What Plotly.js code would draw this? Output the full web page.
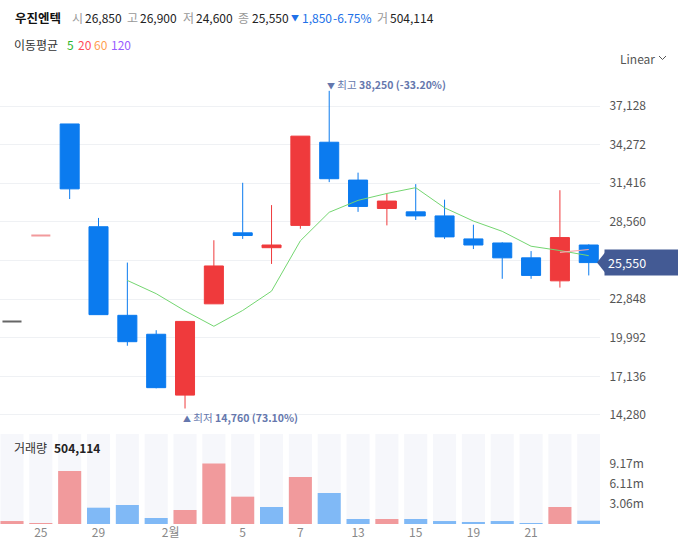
<!DOCTYPE html>
<html>
<head>
<meta charset="utf-8">
<script src="https://cdn.plot.ly/plotly-3.0.1.min.js"></script>
<style>
  html, body { margin: 0; padding: 0; background: #fff; }
  #chart { width: 678px; height: 541px; }
</style>
</head>
<body>
<div id="chart"></div>
<script>
// 우진엔텍 daily candles, 2024-01-24 .. 2024-02-23
var days   = ['1/24','1/25','1/26','1/29','1/30','1/31','2/1','2/2','2/5','2/6','2/7',
              '2/8','2/13','2/14','2/15','2/16','2/19','2/20','2/21','2/22','2/23'];
var opens  = [21200, 27550, 35800, 28200, 21650, 20250, 15750, 22500, 27750, 26650, 28300,
              34450, 31650, 29550, 29300, 29000, 27300, 27000, 25900, 24200, 26850];
var highs  = [21200, 27550, 35800, 28850, 25550, 20550, 21200, 27200, 31450, 29800, 34900,
              38250, 32200, 30650, 31350, 30200, 28350, 27050, 26400, 30900, 26900];
var lows   = [21200, 27550, 30250, 21700, 19400, 16250, 14760, 22500, 27300, 25450, 28050,
              31500, 29300, 28300, 28700, 27300, 26550, 24350, 24350, 23700, 24600];
var closes = [21200, 27550, 31000, 21700, 19700, 16300, 21200, 25300, 27550, 26850, 34900,
              31750, 29700, 30100, 29000, 27450, 26850, 25900, 24600, 27400, 25550];
var volumes = [450000, 150000, 8030000, 2470000, 2880000, 910000, 2120000, 9170000, 4140000, 2580000, 7130000,
               4700000, 760000, 760000, 760000, 450000, 300000, 450000, 150000, 2580000, 504114];

var tickPos  = [1, 3, 5.5, 8, 10, 12, 14, 16, 18];
var tickText = ['25', '29', '2월', '5', '7', '13', '15', '19', '21'];

var RED = '#ef3a3c', BLUE = '#0b7bef';
var FONT = 'Noto Sans CJK KR, Noto Sans, sans-serif';

var idx = days.map(function (d, i) { return i; });
function pick(arr, ids) { return ids.map(function (i) { return arr[i]; }); }
function fmt(n) { return Math.round(n).toLocaleString('en-US'); }

// moving averages of the close
function sma(n) {
  return closes.map(function (c, i) {
    if (i < n - 1) return null;
    var s = 0;
    for (var k = i - n + 1; k <= i; k++) s += closes[k];
    return s / n;
  });
}

var flatIds = idx.filter(function (i) { return opens[i] === closes[i] && highs[i] === lows[i]; });
var moveIds = idx.filter(function (i) { return flatIds.indexOf(i) < 0; });

var traces = [];
traces.push({
  type: 'candlestick', x: pick(idx, moveIds),
  open: pick(opens, moveIds), high: pick(highs, moveIds),
  low: pick(lows, moveIds), close: pick(closes, moveIds),
  increasing: { line: { color: RED, width: 1 }, fillcolor: RED },
  decreasing: { line: { color: BLUE, width: 1 }, fillcolor: BLUE },
  whiskerwidth: 0, hoverinfo: 'skip', showlegend: false, xaxis: 'x', yaxis: 'y'
});
flatIds.forEach(function (i) {
  var col = (i > 0 && closes[i] > closes[i - 1]) ? '#f29a9c' : '#666666';
  traces.push({
    type: 'candlestick', x: [i], open: [opens[i]], high: [highs[i]], low: [lows[i]], close: [closes[i]],
    increasing: { line: { color: col, width: 2 }, fillcolor: col },
    decreasing: { line: { color: col, width: 2 }, fillcolor: col },
    whiskerwidth: 0, hoverinfo: 'skip', showlegend: false, xaxis: 'x', yaxis: 'y'
  });
});
traces.push({ type: 'scatter', mode: 'lines', x: idx, y: sma(5), line: { color: '#74d671', width: 1 },
  hoverinfo: 'skip', showlegend: false, xaxis: 'x', yaxis: 'y' });
traces.push({ type: 'scatter', mode: 'lines', x: idx, y: sma(20), line: { color: '#f7a9b0', width: 1.2 },
  hoverinfo: 'skip', showlegend: false, xaxis: 'x', yaxis: 'y' });

// volume panel: colour follows close vs previous close
var volMax = Math.max.apply(null, volumes);
var volTop = volMax * 1.487;
traces.push({ type: 'bar', x: idx, y: idx.map(function () { return volTop; }),
  marker: { color: '#f6f7fb' }, hoverinfo: 'skip', showlegend: false, xaxis: 'x', yaxis: 'y2' });
traces.push({ type: 'bar', x: idx, y: volumes,
  marker: { color: idx.map(function (i) { return (i === 0 || closes[i] >= closes[i - 1]) ? '#f19a9c' : '#80b9f6'; }) },
  hoverinfo: 'skip', showlegend: false, xaxis: 'x', yaxis: 'y2' });

var volTicks = [1, 2, 3].map(function (k) { return volMax * k / 3; });

var last = closes.length - 1;

// price ticks; the one hidden behind the last-price badge gets no label
var priceTicks = [];
for (var v = 14280; v <= 39000; v += 2856) priceTicks.push(v);
var priceText = priceTicks.map(function (v) { return Math.abs(v - closes[last]) < 1000 ? '' : fmt(v); });

// pixel helpers for text placed in the margins
var W = 600, T = 70, H = 454;
function px(x) { return x / W; }
function py(y) { return (T + H - y) / H; }
function txt(x, y, text, color, size, bold) {
  return { xref: 'paper', yref: 'paper', x: px(x), y: py(y), xanchor: 'left', yanchor: 'middle',
    showarrow: false, text: bold ? '<b>' + text + '</b>' : text,
    font: { family: FONT, size: size || 12, color: color || '#222' } };
}

var chg = closes[last] - closes[last - 1];
var chgPct = chg / closes[last - 1] * 100;
var hiIdx = highs.indexOf(Math.max.apply(null, highs));
var loIdx = lows.indexOf(Math.min.apply(null, lows));
var hiPct = (closes[last] - highs[hiIdx]) / highs[hiIdx] * 100;
var loPct = (closes[last] - lows[loIdx]) / lows[loIdx] * 100;
var CHG = '#2070e8', MARK = '#6577ad';

var annotations = [
  txt(13, 17, '우진엔텍', '#111', 12.5, true),
  txt(70, 17, '시', '#999'), txt(83, 17, fmt(opens[last])),
  txt(125, 17, '고', '#999'), txt(138, 17, fmt(highs[last])),
  txt(181, 17, '저', '#999'), txt(194, 17, fmt(lows[last])),
  txt(236, 17, '종', '#999'), txt(250, 17, fmt(closes[last])),
  txt(289, 17, chg < 0 ? '▼' : '▲', CHG, 8), txt(300, 17, fmt(Math.abs(chg)), CHG),
  txt(331, 17, chgPct.toFixed(2) + '%', CHG),
  txt(375, 17, '거', '#999'), txt(388, 17, fmt(volumes[last])),
  txt(12, 44, '이동평균', '#333'),
  txt(65, 44, '5', '#2db82d'), txt(76, 44, '20', '#ff4d5a'),
  txt(92, 44, '60', '#ff9f50'), txt(109, 44, '120', '#9a5cff'),
  txt(618, 58, 'Linear', '#555'),
  txt(12, 447, '거래량', '#333'), txt(52, 447, fmt(volumes[last]), '#222', 12, true),
  { xref: 'x', yref: 'y', x: hiIdx, y: highs[hiIdx], xanchor: 'left', yanchor: 'bottom', xshift: -4, yshift: -3,
    showarrow: false, font: { family: FONT, size: 10.5, color: MARK },
    text: '<span style="font-size:8px">▼</span> 최고 <b>' + fmt(highs[hiIdx]) + ' (' + hiPct.toFixed(2) + '%)</b>' },
  { xref: 'x', yref: 'y', x: loIdx, y: lows[loIdx], xanchor: 'left', yanchor: 'top', xshift: -4, yshift: 1,
    showarrow: false, font: { family: FONT, size: 10.5, color: MARK },
    text: '<span style="font-size:8px">▲</span> 최저 <b>' + fmt(lows[loIdx]) + ' (' + loPct.toFixed(2) + '%)</b>' },
  { xref: 'paper', yref: 'y', x: px(604), y: closes[last], xanchor: 'left', yanchor: 'middle',
    showarrow: false, bgcolor: '#435a94', borderpad: 3, width: 80, align: 'left',
    font: { family: FONT, size: 12.5, color: '#fff' }, text: fmt(closes[last]) }
];

var shapes = [
  { type: 'path', xref: 'paper', yref: 'y', xsizemode: 'pixel', ysizemode: 'pixel',
    xanchor: px(604), yanchor: closes[last], path: 'M -7,0 L 1,-10 L 1,10 Z',
    fillcolor: '#435a94', line: { width: 0 } },
  { type: 'path', xref: 'paper', yref: 'paper', line: { color: '#555', width: 1 },
    path: 'M ' + px(659) + ',' + py(56) + ' L ' + px(662.5) + ',' + py(59.5) + ' L ' + px(666) + ',' + py(56) }
];

var layout = {
  width: 678, height: 541,
  margin: { l: 0, r: 78, t: T, b: 541 - T - H },
  paper_bgcolor: '#fff', plot_bgcolor: '#fff',
  font: { family: FONT, size: 12, color: '#555' },
  showlegend: false,
  barmode: 'overlay', bargap: 0.2,
  boxgap: 0.34, boxgroupgap: 0,
  xaxis: {
    type: 'linear', range: [-0.416, 20.39], anchor: 'y2',
    rangeslider: { visible: false },
    tickmode: 'array', tickvals: tickPos, ticktext: tickText,
    ticks: '', tickfont: { family: FONT, size: 12, color: '#888' },
    showgrid: false, zeroline: false, showline: false, fixedrange: true
  },
  yaxis: {
    domain: [(T + H - 425) / H, 1], range: [13540, 39790], side: 'right',
    tickmode: 'array', tickvals: priceTicks, ticktext: priceText,
    ticks: 'outside', ticklen: 6, tickcolor: 'rgba(0,0,0,0)',
    tickfont: { family: FONT, size: 12, color: '#555' },
    gridcolor: '#eff1f4', gridwidth: 1, zeroline: false, showline: false, fixedrange: true
  },
  yaxis2: {
    domain: [0, 90 / H], range: [0, volTop], side: 'right',
    tickmode: 'array', tickvals: volTicks,
    ticktext: volTicks.map(function (v) { return (v / 1e6).toFixed(2) + 'm'; }),
    ticks: 'outside', ticklen: 6, tickcolor: 'rgba(0,0,0,0)',
    tickfont: { family: FONT, size: 12, color: '#555' },
    showgrid: false, zeroline: false, showline: false, fixedrange: true
  },
  annotations: annotations,
  shapes: shapes
};

Plotly.newPlot('chart', traces, layout, { displayModeBar: false, staticPlot: true });
</script>
</body>
</html>
